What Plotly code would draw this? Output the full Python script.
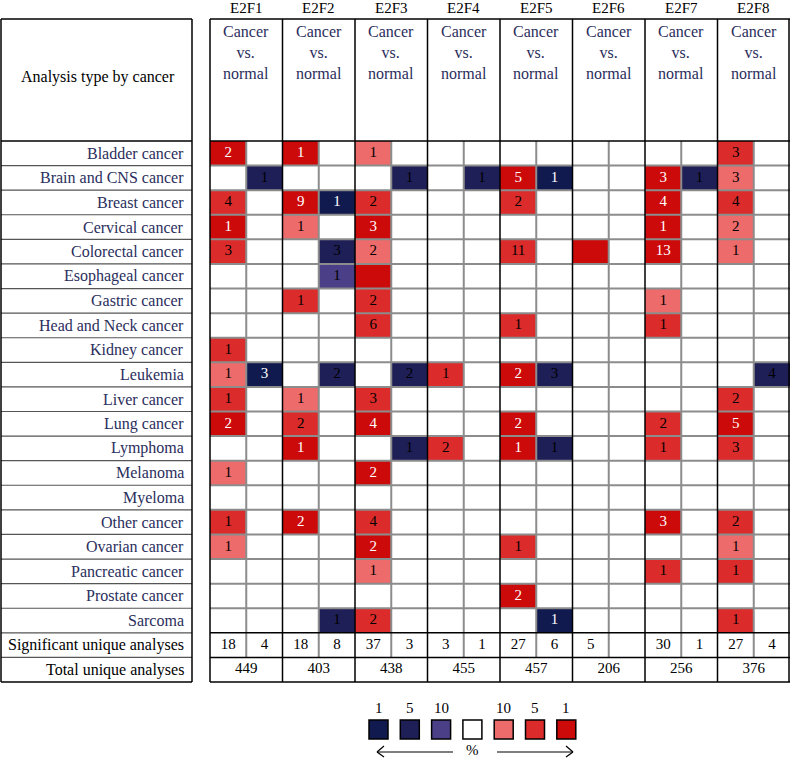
import plotly.graph_objects as go

# Oncomine-style summary of E2F family expression, cancer vs. normal
GENES = ["E2F1", "E2F2", "E2F3", "E2F4", "E2F5", "E2F6", "E2F7", "E2F8"]
CANCERS = [
    "Bladder cancer", "Brain and CNS cancer", "Breast cancer", "Cervical cancer",
    "Colorectal cancer", "Esophageal cancer", "Gastric cancer", "Head and Neck cancer",
    "Kidney cancer", "Leukemia", "Liver cancer", "Lung cancer", "Lymphoma",
    "Melanoma", "Myeloma", "Other cancer", "Ovarian cancer", "Pancreatic cancer",
    "Prostate cancer", "Sarcoma",
]
# 16 cells per row (up / down for each gene): "<level>:<count>", "." = none
CELLS = [
    "r1:2 . r1:1 . r10:1 . . . . . . . . . r5:3 .",
    ". b5:1 . . . b5:1 . b5:1 r1:5 b1:1 . . r1:3 b5:1 r10:3 .",
    "r5:4 . r1:9 b1:1 r5:2 . . . r5:2 . . . r1:4 . r5:4 .",
    "r1:1 . r10:1 . r1:3 . . . . . . . r1:1 . r10:2 .",
    "r5:3 . . b5:3 r10:2 . . . r5:11 . r1 . r1:13 . r10:1 .",
    ". . . b10:1 r1 . . . . . . . . . . .",
    ". . r5:1 . r5:2 . . . . . . . r10:1 . . .",
    ". . . . r5:6 . . . r5:1 . . . r5:1 . . .",
    "r5:1 . . . . . . . . . . . . . . .",
    "r10:1 b1:3 . b5:2 . b5:2 r5:1 . r1:2 b5:3 . . . . . b5:4",
    "r5:1 . r10:1 . r5:3 . . . . . . . . . r5:2 .",
    "r1:2 . r5:2 . r1:4 . . . r1:2 . . . r5:2 . r1:5 .",
    ". . r1:1 . . b5:1 r5:2 . r1:1 b5:1 . . r5:1 . r5:3 .",
    "r10:1 . . . r1:2 . . . . . . . . . . .",
    ". . . . . . . . . . . . . . . .",
    "r5:1 . r1:2 . r5:4 . . . . . . . r1:3 . r5:2 .",
    "r10:1 . . . r1:2 . . . r5:1 . . . . . r10:1 .",
    ". . . . r10:1 . . . . . . . r5:1 . r5:1 .",
    ". . . . . . . . r1:2 . . . . . . .",
    ". . . b5:1 r5:2 . . . . b1:1 . . . . r5:1 .",
]
SIGNIFICANT = [18, 4, 18, 8, 37, 3, 3, 1, 27, 6, 5, None, 30, 1, 27, 4]
TOTAL = [449, 403, 438, 455, 457, 206, 256, 376]
LEGEND_KEYS = ["b1", "b5", "b10", "", "r10", "r5", "r1"]
LEGEND_LABELS = ["1", "5", "10", "", "10", "5", "1"]

LEVELS = ["", "b1", "b5", "b10", "r10", "r5", "r1"]
COLORS = {"": "#FFFFFF", "b1": "#111A4E", "b5": "#1F1F58", "b10": "#4B4087",
          "r10": "#EE6B6B", "r5": "#DC2B2B", "r1": "#CC0A0A"}
WHITE_TEXT = {"b1", "r1"}
FONT = "Liberation Serif"
NAVY = "#2A2E5C"
GRID = "#8C8C8C"

# pixel helpers for the decorations around the grid
CW = 580 / 16
RH = (682 - 141) / 22
def X(px): return (px - 210) / CW - 0.5
def Y(px): return (px - 141) / RH - 0.5

# parse the cells
z, wx, wy, wt, kx, ky, kt = [], [], [], [], [], [], []
for r, row in enumerate(CELLS):
    zr = []
    for c, tok in enumerate(row.split()):
        lvl, _, cnt = ("" if tok == "." else tok).partition(":")
        zr.append(LEVELS.index(lvl))
        if cnt:
            if lvl in WHITE_TEXT:
                wx.append(c); wy.append(r); wt.append(cnt)
            else:
                kx.append(c); ky.append(r); kt.append(cnt)
    z.append(zr)

n = len(LEVELS)
scale = []
for i, lv in enumerate(LEVELS):
    scale += [[i / n, COLORS[lv]], [(i + 1) / n, COLORS[lv]]]

fig = go.Figure()
fig.add_trace(go.Heatmap(z=z, x=list(range(16)), y=list(range(len(CANCERS))),
                         colorscale=scale, zmin=-0.5, zmax=n - 0.5,
                         showscale=False, hoverinfo="skip"))
fig.add_trace(go.Scatter(x=kx, y=ky, text=kt, mode="text",
                         textfont=dict(family=FONT, size=15, color="black"), hoverinfo="skip"))
fig.add_trace(go.Scatter(x=wx, y=wy, text=wt, mode="text",
                         textfont=dict(family=FONT, size=15, color="white"), hoverinfo="skip"))

nr = len(CANCERS)
sx = [i for i, v in enumerate(SIGNIFICANT) if v is not None]
fig.add_trace(go.Scatter(x=sx, y=[nr] * len(sx), text=[str(SIGNIFICANT[i]) for i in sx],
                         mode="text", textfont=dict(family=FONT, size=15, color="black"),
                         hoverinfo="skip"))
fig.add_trace(go.Scatter(x=[2 * g + 0.5 for g in range(len(TOTAL))], y=[nr + 1] * len(TOTAL),
                         text=[str(t) for t in TOTAL], mode="text",
                         textfont=dict(family=FONT, size=15, color="black"), hoverinfo="skip"))

shapes = []
def line(x0, y0, x1, y1, color="black", w=1.5):
    shapes.append(dict(type="line", x0=x0, y0=y0, x1=x1, y1=y1, line=dict(color=color, width=w)))

top = Y(19)
bottom = nr + 1.5
# grid lines inside cancer rows
for r in range(nr - 1):
    line(-0.5, r + 0.5, 15.5, r + 0.5, GRID, 2)
for c in range(0, 16, 2):
    line(c + 0.5, -0.5, c + 0.5, nr + 0.5, GRID, 2)
for c in range(1, 15, 2):
    line(c + 0.5, top, c + 0.5, bottom)
for yy in [-0.5, nr - 0.5, nr + 0.5, bottom]:
    line(-0.5, yy, 15.5, yy)
line(-0.5, top, 15.5, top)
line(-0.5, top, -0.5, bottom)
line(X(789), top, X(789), bottom, "black", 1.5)

# left table
lx0, lx1 = X(1), X(192)
for r in range(nr + 1):
    line(lx0, r + 0.5, lx1, r + 0.5, "#555555", 1.2)
for yy in [top, -0.5, bottom]:
    line(lx0, yy, lx1, yy)
line(lx0, top, lx0, bottom)
line(lx1, top, lx1, bottom)

ann = []
for r, name in enumerate(CANCERS):
    ann.append(dict(x=X(186), y=r, text=name, xanchor="right", showarrow=False,
                    font=dict(family=FONT, size=16, color=NAVY)))
for r, name in [(nr, "Significant unique analyses"), (nr + 1, "Total unique analyses")]:
    ann.append(dict(x=X(186), y=r, text=name, xanchor="right", showarrow=False,
                    font=dict(family=FONT, size=16, color="black")))
ann.append(dict(x=X(98), y=Y(77), text="Analysis type by cancer", showarrow=False,
                font=dict(family=FONT, size=16, color="black")))
for g, gene in enumerate(GENES):
    ann.append(dict(x=2 * g + 0.5, y=Y(8), text=gene, showarrow=False,
                    font=dict(family=FONT, size=15, color="black")))
    ann.append(dict(x=2 * g + 0.5, y=Y(52), text="Cancer<br>vs.<br>normal", showarrow=False,
                    font=dict(family=FONT, size=16, color=NAVY)))

# legend
for i, (key, lab) in enumerate(zip(LEGEND_KEYS, LEGEND_LABELS)):
    x0 = 369 + i * 31.3
    shapes.append(dict(type="rect", x0=X(x0), x1=X(x0 + 19), y0=Y(720), y1=Y(739),
                       fillcolor=COLORS[key], line=dict(color="black", width=1.5)))
    if lab:
        ann.append(dict(x=X(x0 + 9.5), y=Y(708), text=lab, showarrow=False,
                        font=dict(family=FONT, size=15, color="black")))
ann.append(dict(x=X(472), y=Y(750), text="%", showarrow=False,
                font=dict(family=FONT, size=15, color="black")))
line(X(377), Y(752), X(453), Y(752), "black", 1.2)
line(X(377), Y(752), X(384), Y(746), "black", 1.2)
line(X(377), Y(752), X(384), Y(757), "black", 1.2)
line(X(497), Y(752), X(573), Y(752), "black", 1.2)
line(X(573), Y(752), X(566), Y(746), "black", 1.2)
line(X(573), Y(752), X(566), Y(757), "black", 1.2)

fig.update_layout(
    width=790, height=758, margin=dict(l=0, r=0, t=0, b=0),
    paper_bgcolor="white", plot_bgcolor="white", showlegend=False,
    shapes=shapes, annotations=ann, hovermode=False,
)
fig.update_xaxes(range=[X(0), X(790)], visible=False, fixedrange=True)
fig.update_yaxes(range=[Y(758), Y(0)], visible=False, fixedrange=True)

# page body has a default 8px margin; drop it so the figure fills the window
fig.write_html("out.html", config={"displayModeBar": False},
               post_script="document.body.style.margin='0';")
